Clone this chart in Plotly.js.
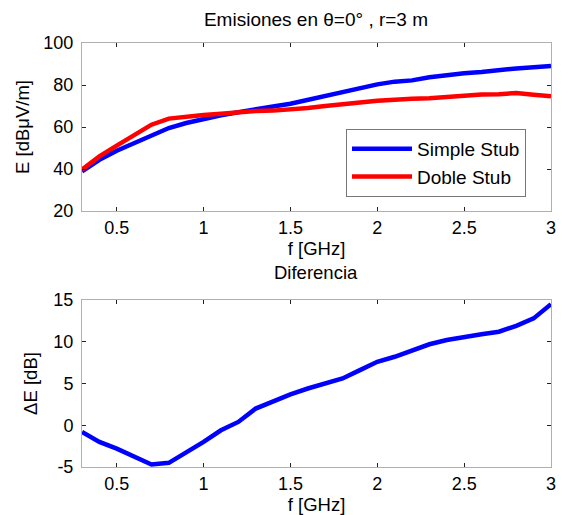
<!DOCTYPE html>
<html>
<head>
<meta charset="utf-8">
<script src="https://cdn.plot.ly/plotly-3.0.1.min.js"></script>
<style>html,body{margin:0;padding:0;background:#fff;}#chart{width:569px;height:515px;}</style>
</head>
<body>
<div id="chart"></div>
<script>
const freq = [0.3,0.4,0.5,0.6,0.7,0.8,0.9,1.0,1.1,1.2,1.3,1.4,1.5,1.6,1.7,1.8,1.9,2.0,2.1,2.2,2.3,2.4,2.5,2.6,2.7,2.8,2.9,3.0];
const simpleStub = [38.9,44.4,48.7,52.4,56.0,59.5,61.9,64.0,65.6,67.0,68.6,69.8,71.1,73.0,74.8,77.0,78.6,80.3,81.6,82.2,83.7,84.9,85.6,86.2,87.3,87.9,88.4,89.0];
const dobleStub = [39.7,46.0,51.1,56.3,61.1,64.0,65.1,65.7,66.3,67.0,67.6,67.8,68.3,69.0,70.0,71.1,71.7,72.5,73.2,73.5,73.7,74.3,75.0,75.5,75.6,76.2,75.4,74.6];
const diferencia = [-0.8,-2.0,-2.8,-3.7,-4.7,-4.5,-3.3,-2.0,-0.6,0.4,2.0,2.9,3.7,4.4,5.0,5.6,6.6,7.6,8.2,9.0,9.7,10.2,10.6,10.9,11.2,11.9,12.8,14.5];
const xTicks = [0.5,1,1.5,2,2.5,3];
const xTickText = ["0.5","1","1.5","2","2.5","3"];
const yTopTicks = [20,40,60,80,100];
const yTopTickText = ["20","40","60","80","100"];
const yBotTicks = [-5,0,5,10,15];
const yBotTickText = ["-5","0","5","10","15"];

const FONT = "Liberation Sans, Arial, Helvetica, sans-serif";
const tickFont = {family: FONT, size: 18, color: "#000"};
const titleFont = {family: FONT, size: 18.5, color: "#000"};

const traces = [
  {x: freq, y: simpleStub, type: "scatter", mode: "lines", name: "Simple Stub",
   line: {color: "#0000ff", width: 4.5}, xaxis: "x", yaxis: "y"},
  {x: freq, y: dobleStub, type: "scatter", mode: "lines", name: "Doble Stub",
   line: {color: "#ff0000", width: 4.5}, xaxis: "x", yaxis: "y"},
  {x: freq, y: diferencia, type: "scatter", mode: "lines", name: "Diferencia",
   line: {color: "#0000ff", width: 4.5}, xaxis: "x2", yaxis: "y2", showlegend: false}
];

function xax(anchor) {
  return {
    anchor: anchor, domain: [82/569, 551/569], range: [0.3, 3],
    tickmode: "array", tickvals: xTicks, ticktext: xTickText,
    ticks: "inside", ticklen: 4, tickcolor: "#222", tickwidth: 1,
    showline: true, linecolor: "#b0b0b0", linewidth: 1, mirror: "allticks",
    showgrid: false, zeroline: false, tickfont: tickFont, ticklabelstandoff: 0,
    title: {text: "f [GHz]", font: titleFont, standoff: 0}
  };
}

const layout = {
  width: 569, height: 515,
  margin: {l: 0, r: 0, t: 0, b: 0},
  paper_bgcolor: "#fff", plot_bgcolor: "#fff",
  title: {text: "Emisiones en θ=0° , r=3 m", font: {family: FONT, size: 19, color: "#000"},
          x: 316/569, xanchor: "center", y: 1 - 19/515, yanchor: "middle"},
  xaxis: xax("y"),
  xaxis2: xax("y2"),
  yaxis: {
    anchor: "x", domain: [1 - 211/515, 1 - 43/515], range: [20, 100],
    tickmode: "array", tickvals: yTopTicks, ticktext: yTopTickText,
    ticks: "inside", ticklen: 4, tickcolor: "#222", tickwidth: 1,
    showline: true, linecolor: "#b0b0b0", linewidth: 1, mirror: "allticks",
    showgrid: false, zeroline: false, tickfont: tickFont, ticklabelstandoff: 4,
    title: {text: "E [dBμV/m]", font: titleFont, standoff: 8}
  },
  yaxis2: {
    anchor: "x2", domain: [1 - 467/515, 1 - 300/515], range: [-5, 15],
    tickmode: "array", tickvals: yBotTicks, ticktext: yBotTickText,
    ticks: "inside", ticklen: 4, tickcolor: "#222", tickwidth: 1,
    showline: true, linecolor: "#b0b0b0", linewidth: 1, mirror: "allticks",
    showgrid: false, zeroline: false, tickfont: tickFont, ticklabelstandoff: 4,
    title: {text: "ΔE [dB]", font: titleFont, standoff: 10}
  },
  legend: {
    x: 346/569, y: 1 - 129/515, xanchor: "left", yanchor: "top",
    bgcolor: "#fff", bordercolor: "#777", borderwidth: 1,
    font: {family: FONT, size: 19, color: "#000"},
    itemwidth: 60, tracegroupgap: 0
  },
  annotations: [
    {text: "Diferencia", xref: "paper", yref: "paper", x: 316/569, y: 1 - 272/515,
     xanchor: "center", yanchor: "middle", showarrow: false,
     font: titleFont}
  ],
  showlegend: true
};

Plotly.newPlot("chart", traces, layout, {displayModeBar: false, staticPlot: true});
</script>
</body>
</html>
